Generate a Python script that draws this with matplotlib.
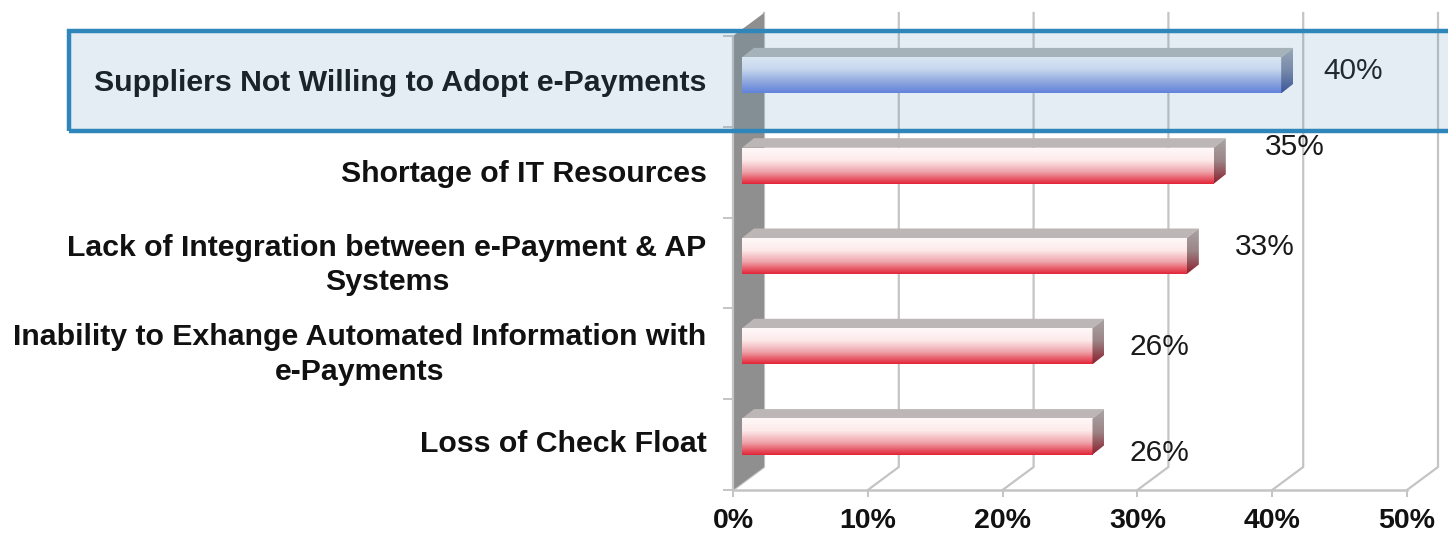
import matplotlib
matplotlib.use('Agg')
import matplotlib.pyplot as plt
import numpy as np
from matplotlib.colors import LinearSegmentedColormap
from matplotlib.patches import Polygon, Rectangle

categories = ['Suppliers Not Willing to Adopt e-Payments',
              'Shortage of IT Resources',
              'Lack of Integration between e-Payment & AP\nSystems',
              'Inability to Exhange Automated Information with\ne-Payments',
              'Loss of Check Float']
values = [40, 35, 33, 26, 26]
value_labels = ['40%', '35%', '33%', '26%', '26%']
x_ticks = [0, 10, 20, 30, 40, 50]
x_tick_labels = ['0%', '10%', '20%', '30%', '40%', '50%']

# labels were hand placed in the original, offsets in pixels from bar end / row centre
label_dx = [81, 90, 87, 76, 76]
label_dy = [10, 25, 16, 7, -8]
cat_lift = [1, 1.2, 4.4, 5.6, 3.8]

W, H = 1448, 535
plt.rcParams['font.family'] = ['Liberation Sans', 'DejaVu Sans']

fig = plt.figure(figsize=(W / 100, H / 100), dpi=100)
ax = fig.add_axes([733 / W, (H - 490) / H, 674 / W, 454 / H])
ax.set_xlim(0, 50)
ax.set_ylim(4.5, -0.5)

# pixel sizes turned into data units
px_x = 50 / 674
px_y = 5 / 454
depth_x, depth_y = 31 * px_x, 23 * px_y
bar_x, bar_y = 9 * px_x, 6 * px_y
bar_h = 36 * px_y
top_x, top_y = 12 * px_x, 9.5 * px_y
row_drift = 0.5 * px_y  # rows sit a bit tighter than the tick marks

grid_col = '#c4c4c4'
for t in x_ticks:
    ax.plot([t, t + depth_x, t + depth_x], [4.5, 4.5 - depth_y, -0.5 - depth_y],
            color=grid_col, lw=1.6, clip_on=False, zorder=1)
ax.plot([0, 50], [4.5, 4.5], color=grid_col, lw=1.8, clip_on=False, zorder=1)

wall = Polygon([(0, -0.5), (depth_x, -0.5 - depth_y), (depth_x, 4.5 - depth_y), (0, 4.5)],
               closed=True, facecolor='#8f8f8f', edgecolor='none', clip_on=False, zorder=2)
ax.add_patch(wall)

red_front = LinearSegmentedColormap.from_list('rf', ['#fff8f8', '#fdeaea', '#eea3aa', '#e22638'])
red_side = LinearSegmentedColormap.from_list('rs', ['#aaa5a5', '#9c8486', '#8a1f2c'])
blue_front = LinearSegmentedColormap.from_list('bf', ['#f2f6fd', '#dde5f7', '#9fb0e6', '#6782e2'])
blue_side = LinearSegmentedColormap.from_list('bs', ['#a9aeb5', '#7f8aa8', '#3b4f95'])
grad = np.linspace(0, 1, 64).reshape(-1, 1)

for i, v in enumerate(values):
    front_cmap = blue_front if i == 0 else red_front
    side_cmap = blue_side if i == 0 else red_side
    top_col = '#b7b9b9' if i == 0 else '#bdb6b6'
    x0, x1 = bar_x, v + bar_x
    yc = i - bar_y - i * row_drift
    y0, y1 = yc - bar_h / 2, yc + bar_h / 2
    ax.add_patch(Polygon([(x0, y0), (x0 + top_x, y0 - top_y), (x1 + top_x, y0 - top_y), (x1, y0)],
                         closed=True, facecolor=top_col, edgecolor='none', zorder=3))
    ax.imshow(grad, cmap=front_cmap, extent=[x0, x1, y1, y0], aspect='auto', zorder=4,
              interpolation='bilinear')
    side = Polygon([(x1, y0), (x1 + top_x, y0 - top_y), (x1 + top_x, y1 - top_y), (x1, y1)],
                   closed=True, facecolor='none', edgecolor='none', transform=ax.transData)
    ax.add_patch(side)
    im = ax.imshow(grad, cmap=side_cmap, extent=[x1, x1 + top_x, y1, y0 - top_y], aspect='auto',
                   zorder=4, interpolation='bilinear')
    im.set_clip_path(side)
    ax.annotate(value_labels[i], (v, i), xytext=(label_dx[i], label_dy[i]),
                textcoords='offset pixels', ha='center', va='center',
                fontsize=21.5, color='#1a1a1a', zorder=6, annotation_clip=False)

ax.set_xlim(0, 50)
ax.set_ylim(4.5, -0.5)

for s in ax.spines.values():
    s.set_visible(False)
ax.spines['left'].set_visible(True)
ax.spines['left'].set_color(grid_col)
ax.spines['left'].set_linewidth(1.6)
ax.patch.set_alpha(0)

ax.set_xticks(x_ticks)
ax.set_xticklabels(x_tick_labels, fontsize=20.5, fontweight='bold', color='#111111')
ax.tick_params(axis='x', length=5, width=1.4, color=grid_col, pad=8)

ax.set_yticks(np.arange(-0.5, 5, 1))
ax.set_yticklabels([])
ax.tick_params(axis='y', which='major', length=7, width=1.4, color=grid_col)
ax.set_yticks(np.arange(len(categories)) - np.array(cat_lift) * px_y, minor=True)
ax.set_yticklabels(categories, minor=True, fontsize=21.8, fontweight='bold', color='#111111',
                   multialignment='center', linespacing=1.3)
ax.tick_params(axis='y', which='minor', length=0, pad=19)

# highlight band over the first row, see-through like in the original
fig.add_artist(Rectangle((69 / W, (H - 131) / H), 1500 / W, 100 / H, transform=fig.transFigure,
                         facecolor='#4a8cba', alpha=0.15, edgecolor='none', zorder=5))
fig.add_artist(Rectangle((69 / W, (H - 131) / H), 1500 / W, 100 / H, transform=fig.transFigure,
                         facecolor='none', edgecolor='#2e86bb', lw=3.2, zorder=6))

fig.savefig('out.png', dpi=100)
